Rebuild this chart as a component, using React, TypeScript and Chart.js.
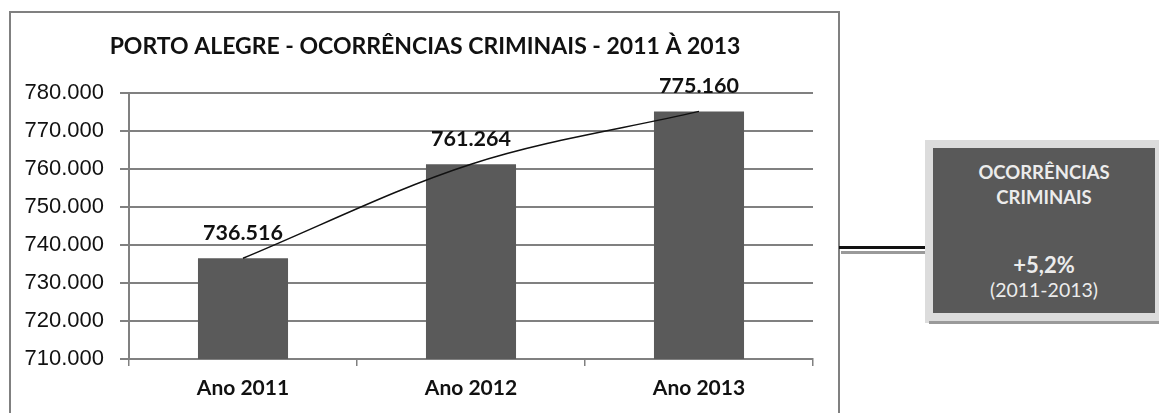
import React, { useEffect, useRef } from "react";
import { Chart, registerables } from "chart.js";

Chart.register(...registerables);

const categories = ["Ano 2011", "Ano 2012", "Ano 2013"];
const occurrences = [736516, 761264, 775160];
const yTicks = [710000, 720000, 730000, 740000, 750000, 760000, 770000, 780000];
const chartTitle = "PORTO ALEGRE - OCORRÊNCIAS CRIMINAIS - 2011 À 2013";
const boxTitle = ["OCORRÊNCIAS", "CRIMINAIS"];
const boxChange = "+5,2%";
const boxPeriod = "(2011-2013)";

const fmt = (v: number) => String(Math.round(v)).replace(/\B(?=(\d{3})+(?!\d))/g, ".");

const labelPlugin = {
  id: "barLabels",
  afterDatasetsDraw(chart: any) {
    const ctx = chart.ctx;
    const meta = chart.getDatasetMeta(0);
    ctx.save();
    ctx.font = "bold 21.5px Lato";
    ctx.fillStyle = "#111";
    ctx.textAlign = "center";
    ctx.textBaseline = "middle";
    meta.data.forEach((bar: any, i: number) => {
      ctx.fillText(fmt(occurrences[i]), bar.x, bar.y - 25);
    });
    ctx.font = "bold 23px Lato";
    ctx.fillText(chartTitle, chart.width / 2, 34);
    ctx.restore();
  },
};

export default function App() {
  const ref = useRef<HTMLCanvasElement>(null);
  useEffect(() => {
    if (!ref.current) return;
    const chart = new Chart(ref.current, {
      type: "bar",
      data: {
        labels: categories,
        datasets: [
          {
            type: "bar",
            data: occurrences,
            backgroundColor: "#5a5a5a",
            barPercentage: 0.395,
            categoryPercentage: 1,
            order: 2,
          },
          {
            type: "line",
            data: occurrences,
            borderColor: "#111",
            borderWidth: 1.5,
            pointRadius: 0,
            tension: 0.4,
            cubicInterpolationMode: "monotone",
            fill: false,
            order: 1,
          } as any,
        ],
      },
      options: {
        responsive: false,
        animation: false,
        layout: { padding: { left: 0, right: 26, top: 80, bottom: 0 } },
        plugins: {
          legend: { display: false },
          tooltip: { enabled: false },
          title: { display: false },
        },
        scales: {
          x: {
            grid: { drawOnChartArea: false, drawTicks: true, tickLength: 7, color: "#808080", lineWidth: 1.5, offset: true },
            border: { color: "#808080", width: 2 },
            ticks: { color: "#111", font: { family: "Lato", size: 21, weight: "bold" }, padding: 10 },
            afterFit: (s: any) => { s.height = 54; },
          },
          y: {
            min: 710000,
            max: 780000,
            afterBuildTicks: (s: any) => { s.ticks = yTicks.map((v) => ({ value: v })); },
            grid: { color: "#808080", lineWidth: 2, tickLength: 9 },
            border: { color: "#808080", width: 2 },
            ticks: {
              color: "#111",
              font: { family: "Liberation Sans", size: 22 },
              padding: 16,
              callback: (v: any) => fmt(Number(v)),
            },
            afterFit: (s: any) => { s.width = 118; },
          },
        },
      },
      plugins: [labelPlugin],
    });
    return () => chart.destroy();
  }, []);

  const txt: React.CSSProperties = {
    position: "absolute",
    left: 933,
    width: 222,
    textAlign: "center",
    color: "#ececec",
    fontFamily: "Lato",
    whiteSpace: "nowrap",
  };

  return (
    <div style={{ position: "absolute", left: 0, top: 0, width: 1159, height: 413, overflow: "hidden", background: "#fff" }}>
      <div style={{ position: "absolute", left: 9, top: 11, width: 831, height: 420, border: "2px solid #808080", boxSizing: "border-box" }} />
      <canvas ref={ref} width={828} height={400} style={{ position: "absolute", left: 11, top: 13, width: 828, height: 400 }} />
      <div style={{ position: "absolute", left: 839, top: 246, width: 90, height: 3, background: "#111" }} />
      <div style={{ position: "absolute", left: 841, top: 251, width: 92, height: 3, background: "#9a9a9a" }} />
      <div style={{ position: "absolute", left: 925, top: 140, width: 234, height: 183, background: "#dcdcdc" }} />
      <div style={{ position: "absolute", left: 929, top: 321, width: 230, height: 3, background: "#9a9a9a" }} />
      <div style={{ position: "absolute", left: 933, top: 148, width: 222, height: 165, background: "#595959" }} />
      <div style={{ ...txt, top: 160, fontSize: 18.5, fontWeight: "bold", lineHeight: "25px" }}>
        {boxTitle[0]}
        <br />
        {boxTitle[1]}
      </div>
      <div style={{ ...txt, top: 251, fontSize: 22, fontWeight: "bold", lineHeight: "28px" }}>{boxChange}</div>
      <div style={{ ...txt, top: 277, fontSize: 19.5, lineHeight: "26px" }}>{boxPeriod}</div>
    </div>
  );
}
